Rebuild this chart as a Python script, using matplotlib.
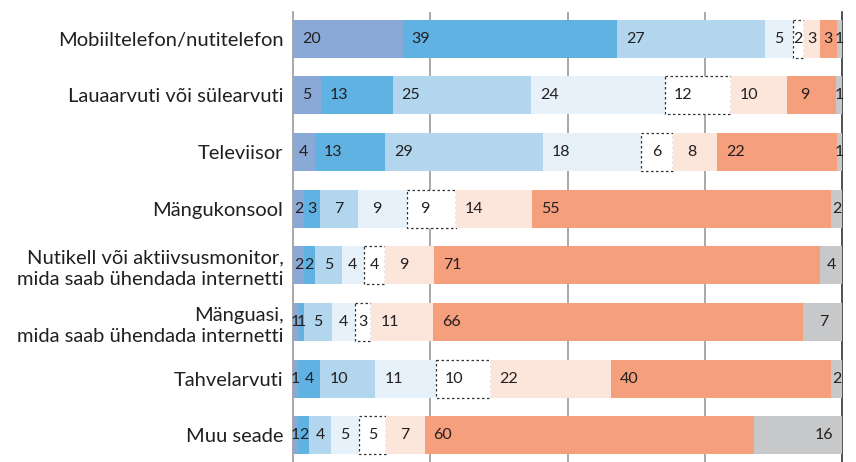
import matplotlib.pyplot as plt
import numpy as np

plt.rcParams['font.family'] = ['Lato', 'DejaVu Sans']

categories = ["Mobiiltelefon/nutitelefon",
              "Lauaarvuti või sülearvuti",
              "Televiisor",
              "Mängukonsool",
              "Nutikell või aktiivsusmonitor,\nmida saab ühendada internetti",
              "Mänguasi,\nmida saab ühendada internetti",
              "Tahvelarvuti",
              "Muu seade"]

# one list per segment (left to right)
seg1 = [20, 5, 4, 2, 2, 1, 1, 1]
seg2 = [39, 13, 13, 3, 2, 1, 4, 2]
seg3 = [27, 25, 29, 7, 5, 5, 10, 4]
seg4 = [5, 24, 18, 9, 4, 4, 11, 5]
seg5 = [2, 12, 6, 9, 4, 3, 10, 5]
seg6 = [3, 10, 8, 14, 9, 11, 22, 7]
seg7 = [3, 9, 22, 55, 71, 66, 40, 60]
seg8 = [1, 1, 1, 2, 4, 7, 2, 16]

colors = ["#8aa9d6", "#5fb2e2", "#b3d6ef", "#e6f1fa", "#ffffff",
          "#fce5db", "#f59f7c", "#c7c8c9"]

segs = np.array([seg1, seg2, seg3, seg4, seg5, seg6, seg7, seg8], dtype=float)
totals = segs.sum(axis=0)
widths = segs / totals * 100

fig = plt.figure(figsize=(8.56, 4.62), dpi=100)
ax = fig.add_axes([293/856, 0, (842-293)/856, 450/462])

y = np.arange(len(categories))
txt = "#231f20"
pad = 3.3  # offset of label centre from segment edge, in % units

left = np.zeros(len(categories))
for i in range(len(segs)):
    if i == 4:
        ax.barh(y, widths[i], left=left, height=0.67, color=colors[i],
                edgecolor="#333333", linestyle=(0, (2, 2)), linewidth=0.9, zorder=3)
    else:
        ax.barh(y, widths[i], left=left, height=0.67, color=colors[i],
                linewidth=0, zorder=3)
    for j in range(len(categories)):
        w = widths[i][j]
        off = min(pad, w / 2)
        if i == len(segs) - 1:
            xc = left[j] + w - off
        else:
            xc = left[j] + off
        ax.text(xc, y[j], str(int(segs[i][j])), ha="center", va="center",
                fontsize=11.5, color=txt, zorder=4)
    left = left + widths[i]

ax.set_xlim(0, 100)
ax.set_ylim(7.47, -0.47)
ax.set_xticks([25, 50, 75])
ax.xaxis.grid(True, color="#9a9a9a", linewidth=1.2, zorder=0)
ax.tick_params(axis="x", length=0, labelbottom=False)
ax.tick_params(axis="y", length=0, pad=7)
ax.set_yticks(y)
ax.set_yticklabels(categories, fontsize=14.5, color=txt, ha="right",
                   linespacing=1.3)
for s in ["top", "bottom"]:
    ax.spines[s].set_visible(False)
ax.spines["left"].set_color("#9a9a9a")
ax.spines["left"].set_linewidth(1.2)
ax.spines["right"].set_color("#333333")
ax.spines["right"].set_linewidth(1.2)

fig.savefig("out.png", dpi=100)
